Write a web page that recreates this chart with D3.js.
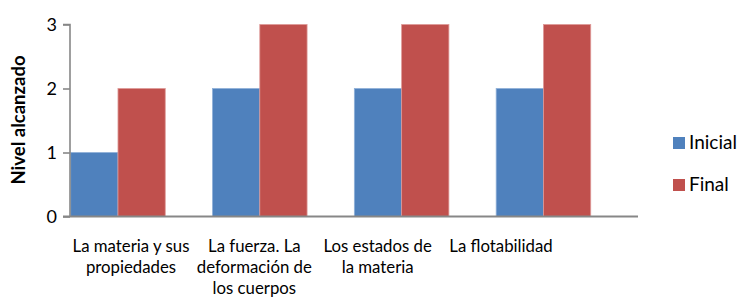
<!DOCTYPE html>
<html><head><meta charset="utf-8">
<script src="https://cdn.jsdelivr.net/npm/d3@7"></script>
<style>body{margin:0;background:#fff}svg{display:block}text{font-family:Lato,"Open Sans",sans-serif}</style>
</head><body><svg id="c" width="741" height="305"></svg>
<script>
const categories = ["La materia y sus propiedades", "La fuerza. La deformación de los cuerpos", "Los estados de la materia", "La flotabilidad"];
const categoryLines = [["La materia y sus", "propiedades"], ["La fuerza. La", "deformación de", "los cuerpos"], ["Los estados de", "la materia"], ["La flotabilidad"]];
const seriesNames = ["Inicial", "Final"];
const inicial = [1, 2, 2, 2];
const final = [2, 3, 3, 3];
const yTicks = [0, 1, 2, 3];
const colors = ["#4F81BD", "#C0504D"];
const strokes = ["#8FB0D8", "#DE9A98"];

const svg = d3.select("#c");
const values = [inicial, final];

const x = d3.scaleBand().domain(categories).range([70.7, 638]).paddingInner(0).paddingOuter(0);
const x1 = d3.scaleBand().domain(seriesNames).range([0, x.bandwidth() * 2 / 3]);
const y = d3.scaleLinear().domain([0, 3]).range([216.5, 24.5]);
const xl = d3.scalePoint().domain(categories).range([131, 501]);

// bars
seriesNames.forEach((s, si) => {
  svg.append("g").selectAll("rect").data(categories).join("rect")
    .attr("x", c => x(c) + x1(s))
    .attr("y", (c, i) => y(values[si][i]))
    .attr("width", x1.bandwidth())
    .attr("height", (c, i) => y(0) - y(values[si][i]))
    .attr("fill", colors[si])
    .attr("stroke", strokes[si])
    .attr("stroke-width", 0.8);
});

// y axis
const yAxis = d3.axisLeft(y).tickValues(yTicks).tickSize(7).tickPadding(6).tickFormat(d3.format("d"));
const gy = svg.append("g").attr("transform", "translate(70,0)").call(yAxis);
gy.select(".domain").attr("stroke", "#878787").attr("stroke-width", 1.6).attr("d", `M-7,${y(3)}H0V${y(0)}`);
gy.selectAll(".tick line").attr("stroke", "#878787").attr("stroke-width", 1.6);
gy.selectAll(".tick text").attr("fill", "#000").style("font-size", "18px").style("font-family", "Lato, sans-serif").attr("dy", "0.36em");

// x axis line
svg.append("line").attr("x1", 63).attr("x2", 638).attr("y1", y(0)).attr("y2", y(0))
  .attr("stroke", "#878787").attr("stroke-width", 2);

// category labels
categories.forEach((c, i) => {
  const t = svg.append("text").attr("text-anchor", "middle").style("font-size", "16.8px").attr("fill", "#000");
  categoryLines[i].forEach((ln, j) => {
    t.append("tspan").attr("x", xl(c)).attr("y", 251.5 + j * 21).text(ln);
  });
});

// y title
svg.append("text").attr("transform", "translate(25,120) rotate(-90)").attr("text-anchor", "middle")
  .style("font-size", "18.5px").style("font-weight", "bold").attr("fill", "#000").text("Nivel alcanzado");

// legend
seriesNames.forEach((s, i) => {
  const g = svg.append("g").attr("transform", `translate(673,${137 + i * 42})`);
  g.append("rect").attr("width", 12).attr("height", 12).attr("fill", colors[i]);
  g.append("text").attr("x", 16).attr("y", 12).style("font-size", "19px").attr("fill", "#000").text(s);
});
</script></body></html>
